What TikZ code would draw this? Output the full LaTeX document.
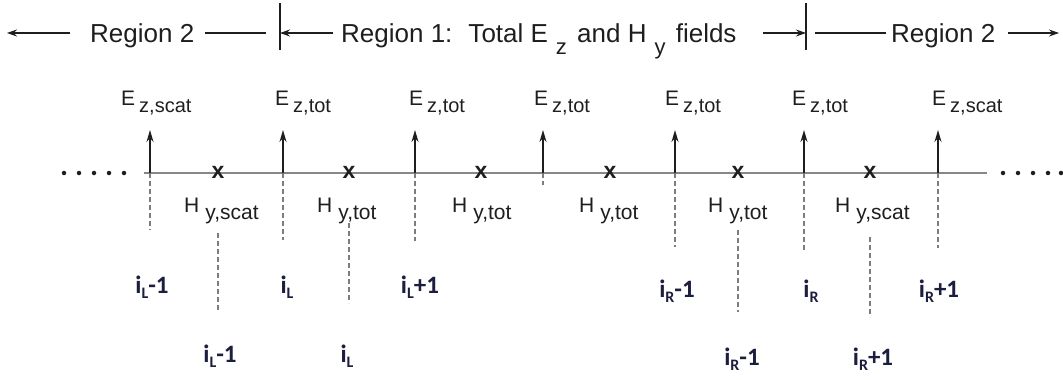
\documentclass[tikz,border=0pt]{standalone}
\usepackage{fontspec}
\usepackage{graphicx}
\setmainfont{Liberation Sans}
\newfontfamily\idxfont{Carlito}
\usetikzlibrary{arrows.meta}
\definecolor{ink}{RGB}{30,30,30}
\definecolor{axisgray}{RGB}{135,135,135}
\definecolor{dashgray}{RGB}{125,125,125}
\definecolor{idxcol}{RGB}{28,30,62}
\newcommand\ELab[1]{E\hspace{4pt}\raisebox{-7pt}{\fontsize{20}{20}\selectfont #1}}
\newcommand\HLab[1]{H\hspace{6pt}\raisebox{-7pt}{\fontsize{21}{21}\selectfont #1}}
\newcommand\ILab[2]{i\raisebox{-5pt}{\fontsize{16}{16}\selectfont #1}#2}
\newcommand\TSub[1]{\raisebox{-12pt}{\fontsize{22}{22}\selectfont #1}}
\begin{document}
\begin{tikzpicture}[x=1pt,y=-1pt,
  toptext/.style={font=\fontsize{26}{26}\selectfont, text=ink, inner sep=0pt, anchor=base west},
  toparrow/.style={draw=ink, line width=1.1pt, -{Stealth[length=10pt,width=7pt]}},
  topline/.style={draw=ink, line width=1.1pt},
  efield/.style={draw=ink, line width=1.5pt, -{Stealth[length=12pt,width=7pt]}},
  elabel/.style={font=\fontsize{21}{21}\selectfont, text=ink, inner sep=0pt, anchor=base west},
  hlabel/.style={font=\fontsize{21}{21}\selectfont, text=ink, inner sep=0pt, anchor=base west},
  guide/.style={draw=dashgray, line width=2pt, dash pattern=on 5pt off 3pt},
  axisline/.style={draw=axisgray, line width=2.6pt},
  idx/.style={font=\idxfont\bfseries\fontsize{25}{25}\selectfont, text=idxcol, inner sep=0pt, anchor=base},
  hmark/.style={font=\bfseries\fontsize{23}{23}\selectfont, text=ink, inner sep=0pt},
  dotmark/.style={circle, fill=ink, inner sep=0pt, minimum size=4.5pt}]
\useasboundingbox (0,0) rectangle (1063,380);

% ---------- top row ----------
\coordinate (tipL) at (7,33);
\coordinate (la) at (70,33);
\node[toptext] (r2l) at (90,42) {Region 2};
\coordinate (lb1) at (205,33);
\coordinate (lb2) at (266,33);
\coordinate (barLt) at (280,3);
\coordinate (barLb) at (280,50);
\coordinate (barL) at (280,33);
\coordinate (lc) at (333,33);
\node[toptext] (r1) at (341,42) {Region 1:\hspace{16pt}Total E\hspace{8pt}\TSub{z}\hspace{3pt} and H\hspace{8pt}\TSub{y}\hspace{3pt} fields};
\coordinate (ld) at (763,33);
\coordinate (barR) at (806,33);
\coordinate (barRt) at (806,3);
\coordinate (barRb) at (806,50);
\coordinate (le1) at (815,33);
\coordinate (le2) at (886,33);
\node[toptext] (r2r) at (891,42) {Region 2};
\coordinate (lf) at (1008,33);
\coordinate (tipR) at (1059,33);
\draw[toparrow] (la) -- (tipL);
\draw[topline] (lb1) -- (lb2);
\draw[topline] (barLt) -- (barLb);
\draw[toparrow] (lc) -- (barL);
\draw[toparrow] (ld) -- (barR);
\draw[topline] (barRt) -- (barRb);
\draw[topline] (le1) -- (le2);
\draw[toparrow] (lf) -- (tipR);

% ---------- axis ----------
\coordinate (axL) at (144,173);
\coordinate (axR) at (987,173);
\draw[axisline] (axL) -- (axR);
\foreach \n/\x in {1/64,2/79,3/94,4/109,5/124}
  \node[dotmark] (dl\n) at (\x,173) {};
\foreach \n/\x in {1/1003,2/1018,3/1033,4/1048,5/1061}
  \node[dotmark] (dr\n) at (\x,173) {};

% ---------- E field arrows and guides ----------
\foreach \n/\x/\b in {1/150/230,2/283/240,3/415/241,4/543/185,5/675/247,6/804/250,7/938/248}{
  \coordinate (e\n) at (\x,173);
  \coordinate (et\n) at (\x,130);
  \coordinate (eb\n) at (\x,\b);
}
\foreach \n in {1,...,7}
  \draw[guide] (e\n) -- (eb\n);
\foreach \n in {1,...,7}
  \draw[efield] (e\n) -- (et\n);

% ---------- H field marks and guides ----------
\foreach \n/\x in {1/218,2/349,3/481,4/610,5/738,6/870}
  \node[hmark] (h\n) at (\x,172) {x};
\foreach \n/\x/\t/\b in {1/218/233/310,2/349/223/303,5/738/230/312,6/870/237/317}{
  \coordinate (ht\n) at (\x,\t);
  \coordinate (hb\n) at (\x,\b);
  \draw[guide] (ht\n) -- (hb\n);
}

% ---------- E labels ----------
\node[elabel] (el1) at (121,105) {\ELab{z,scat}};
\node[elabel] (el2) at (275,105) {\ELab{z,tot}};
\node[elabel] (el3) at (409,105) {\ELab{z,tot}};
\node[elabel] (el4) at (534,105) {\ELab{z,tot}};
\node[elabel] (el5) at (665,105) {\ELab{z,tot}};
\node[elabel] (el6) at (792,105) {\ELab{z,tot}};
\node[elabel] (el7) at (932,105) {\ELab{z,scat}};

% ---------- H labels ----------
\node[hlabel] (hl1) at (184,212) {\HLab{y,scat}};
\node[hlabel] (hl2) at (317,212) {\HLab{y,tot}};
\node[hlabel] (hl3) at (452,212) {\HLab{y,tot}};
\node[hlabel] (hl4) at (579,212) {\HLab{y,tot}};
\node[hlabel] (hl5) at (708,212) {\HLab{y,tot}};
\node[hlabel] (hl6) at (835,212) {\HLab{y,scat}};

% ---------- index labels ----------
\node[idx] (ie1) at (152,293) {\ILab{L}{-1}};
\node[idx] (ie2) at (287,293) {\ILab{L}{}};
\node[idx] (ie3) at (420,293) {\ILab{L}{+1}};
\node[idx] (ie5) at (677,297) {\ILab{R}{-1}};
\node[idx] (ie6) at (811,297) {\ILab{R}{}};
\node[idx] (ie7) at (939,297) {\ILab{R}{+1}};
\node[idx] (ih1) at (220,362) {\ILab{L}{-1}};
\node[idx] (ih2) at (347,362) {\ILab{L}{}};
\node[idx] (ih5) at (742,365) {\ILab{R}{-1}};
\node[idx] (ih6) at (873,365) {\ILab{R}{+1}};
\end{tikzpicture}
\end{document}
